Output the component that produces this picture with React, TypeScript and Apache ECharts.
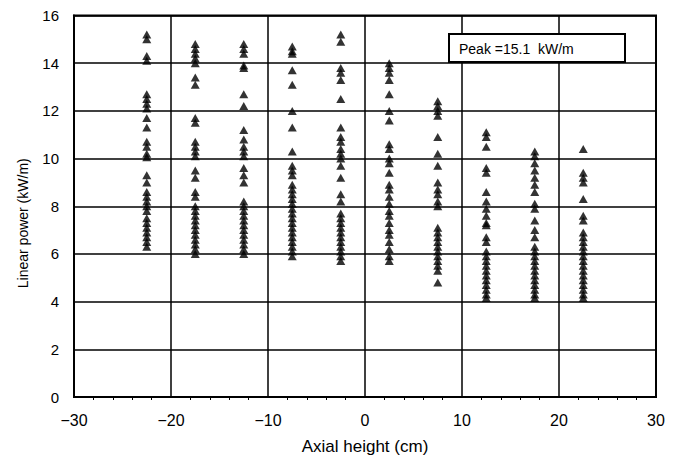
import React, { useEffect, useRef } from "react";
import * as echarts from "echarts";

// Axial positions of the measurement columns (cm)
const axialPositions = [-22.5, -17.5, -12.5, -7.5, -2.5, 2.5, 7.5, 12.5, 17.5, 22.5];

// Linear power readings at each axial position (kW/m)
const powerAtM225 = [15.2, 15.0, 14.3, 14.1, 12.7, 12.5, 12.3, 12.1, 11.7, 11.3, 10.7, 10.5, 10.2, 10.05, 9.3, 9.0, 8.6, 8.4, 8.2, 8.0, 7.8, 7.5, 7.3, 7.1, 6.9, 6.7, 6.5, 6.3];
const powerAtM175 = [14.8, 14.6, 14.4, 14.2, 14.0, 13.4, 13.1, 11.7, 11.5, 10.7, 10.5, 10.3, 10.1, 9.5, 9.2, 8.6, 8.4, 8.0, 7.8, 7.6, 7.4, 7.2, 7.0, 6.8, 6.6, 6.4, 6.2, 6.0];
const powerAtM125 = [14.8, 14.6, 14.4, 13.9, 13.8, 12.7, 12.2, 11.2, 10.8, 10.5, 10.3, 10.1, 9.6, 9.3, 9.0, 8.2, 8.0, 7.8, 7.6, 7.4, 7.2, 7.0, 6.8, 6.6, 6.4, 6.2, 6.0];
const powerAtM75 = [14.7, 14.5, 14.4, 13.7, 13.1, 12.0, 11.3, 10.3, 9.7, 9.5, 9.3, 8.9, 8.7, 8.5, 8.3, 8.1, 7.9, 7.7, 7.5, 7.3, 7.1, 6.9, 6.7, 6.5, 6.3, 6.1, 5.9];
const powerAtM25 = [15.2, 14.9, 13.8, 13.6, 13.3, 12.5, 11.3, 10.9, 10.7, 10.4, 10.2, 10.0, 9.7, 9.2, 8.5, 8.2, 7.7, 7.5, 7.3, 7.1, 6.9, 6.7, 6.5, 6.3, 6.1, 5.9, 5.7];
const powerAtP25 = [14.0, 13.8, 13.6, 13.3, 12.7, 12.0, 11.6, 10.6, 10.4, 10.0, 9.8, 9.4, 8.9, 8.7, 8.4, 8.1, 7.8, 7.6, 7.3, 7.0, 6.8, 6.5, 6.2, 5.9, 5.7];
const powerAtP75 = [12.4, 12.2, 12.0, 11.8, 10.9, 10.2, 9.7, 9.0, 8.7, 8.5, 8.2, 8.0, 7.1, 6.9, 6.7, 6.5, 6.3, 6.1, 5.9, 5.7, 5.5, 5.3, 4.8];
const powerAtP125 = [11.1, 10.9, 10.5, 9.6, 9.4, 8.6, 8.2, 7.9, 7.6, 7.3, 7.2, 6.7, 6.5, 6.1, 5.9, 5.7, 5.5, 5.3, 5.1, 4.9, 4.7, 4.5, 4.3, 4.15];
const powerAtP175 = [10.3, 10.1, 9.8, 9.5, 9.2, 8.9, 8.6, 8.1, 7.9, 7.4, 7.0, 6.7, 6.3, 6.1, 5.9, 5.7, 5.5, 5.3, 5.1, 4.9, 4.7, 4.5, 4.3, 4.15];
const powerAtP225 = [10.4, 9.4, 9.2, 9.0, 8.3, 7.6, 7.4, 6.9, 6.7, 6.5, 6.3, 6.1, 5.9, 5.7, 5.5, 5.3, 5.1, 4.9, 4.7, 4.5, 4.3, 4.15];

const powerColumns = [
  powerAtM225, powerAtM175, powerAtM125, powerAtM75, powerAtM25,
  powerAtP25, powerAtP75, powerAtP125, powerAtP175, powerAtP225,
];

const peakLabel = "Peak =15.1  kW/m";

const FONT = "'Liberation Sans', Arial, sans-serif";

export default function App() {
  const ref = useRef<HTMLDivElement>(null);

  useEffect(() => {
    if (!ref.current) return;
    const chart = echarts.init(ref.current, undefined, { renderer: "svg" });

    const points: number[][] = [];
    axialPositions.forEach((x, i) => {
      powerColumns[i].forEach((v) => points.push([x, v]));
    });

    const splitLine = { show: true, lineStyle: { color: "#000", width: 1.5 } };

    chart.setOption({
      animation: false,
      backgroundColor: "#fff",
      grid: { left: 63, right: 19, top: 2, bottom: 68, show: true, borderColor: "#000", borderWidth: 2 },
      xAxis: {
        type: "value",
        min: -30,
        max: 30,
        interval: 10,
        name: "Axial height (cm)",
        nameLocation: "middle",
        nameGap: 41,
        nameTextStyle: { color: "#000", fontSize: 17, fontFamily: FONT },
        axisLine: { show: true, onZero: false, lineStyle: { color: "#000", width: 2 } },
        axisTick: { show: false },
        minorTick: { show: true, splitNumber: 5, length: 3, lineStyle: { color: "#000" } },
        axisLabel: {
          color: "#000",
          fontSize: 16,
          fontFamily: FONT,
          margin: 15,
          formatter: (v: number) => String(v).replace("-", "\u2212"),
        },
        splitLine,
      },
      yAxis: {
        type: "value",
        min: 0,
        max: 16,
        interval: 2,
        name: "Linear power (kW/m)",
        nameLocation: "middle",
        nameGap: 44,
        nameTextStyle: { color: "#000", fontSize: 14, fontFamily: FONT, padding: [0, 34, 0, 0] },
        axisLine: { show: true, onZero: false, lineStyle: { color: "#000", width: 2 } },
        axisTick: { show: false },
        axisLabel: { color: "#000", fontSize: 15, fontFamily: FONT, margin: 15 },
        splitLine,
      },
      series: [
        {
          type: "scatter",
          data: points,
          symbol: "triangle",
          symbolSize: [9, 8],
          itemStyle: { color: "#000" },
        },
      ],
      graphic: [
        {
          type: "group",
          left: 440,
          top: 25,
          children: [
            {
              type: "rect",
              shape: { x: 0, y: 0, width: 176, height: 28 },
              style: { fill: "#fff", stroke: "#000", lineWidth: 2 },
              z: 10,
            },
            {
              type: "text",
              x: 10,
              y: 15,
              style: { text: peakLabel, fill: "#000", fontSize: 14, fontFamily: FONT, verticalAlign: "middle" },
              z: 11,
            },
          ],
        },
      ],
    });

    return () => chart.dispose();
  }, []);

  return <div ref={ref} style={{ width: 667, height: 457 }} />;
}
